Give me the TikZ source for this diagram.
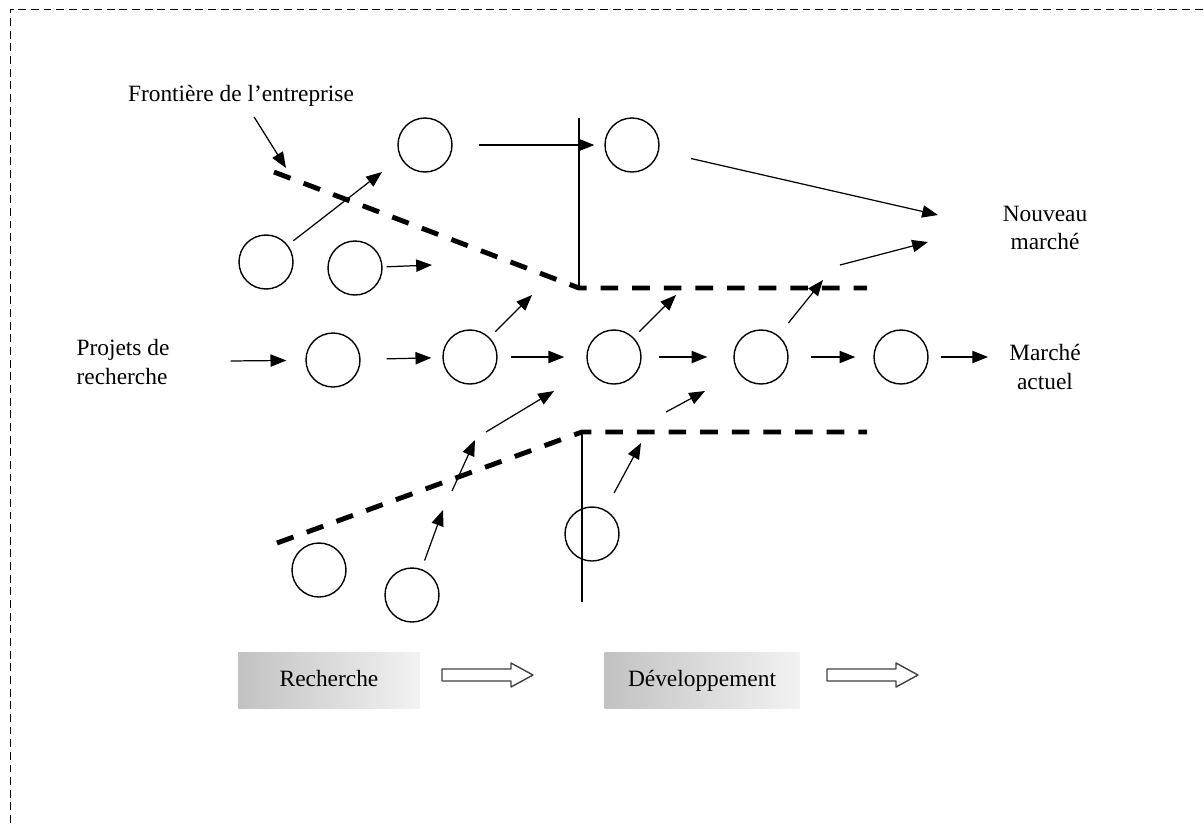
\documentclass[tikz,border=0pt]{standalone}
\usepackage{fontspec}
\setmainfont{Liberation Serif}
\usetikzlibrary{arrows.meta,positioning}
\newcommand{\hollowarrow}[2]{%
  \draw[line width=0.8pt,black!75,line join=round,fill=white]
    (#1,#2) ++(0,-6) -- ++(69,0) -- ++(0,-6) -- ++(22,12) -- ++(-22,12)
    -- ++(0,-6) -- ++(-69,0) -- cycle;}

\begin{document}
\begin{tikzpicture}[x=0.02cm,y=-0.02cm,
    font=\fontsize{13.3}{16}\selectfont,
    firm/.style={circle,draw,line width=0.8pt,minimum size=1.08cm,inner sep=0pt},
    arr/.style={line width=0.7pt,-{Triangle[length=9pt,width=7pt]}},
    gap/.style 2 args={shorten <=#1,shorten >=#2},
    bound/.style={line width=2.8pt,dash pattern=on 10pt off 8pt},
    wall/.style={line width=0.8pt},
    phase/.style={minimum height=1.12cm,inner sep=0pt,text height=9pt,text depth=2pt,
      left color=black!24,right color=black!5}]
  \useasboundingbox (0,0) rectangle (1204,823);
  \draw[line width=0.5pt,dash pattern=on 4.5pt off 2.7pt] (10,823) -- (10,9) -- (1204,9);

  % projets
  \node[firm] (top1) at (425,145) {};
  \node[firm] (top2) at (632,145) {};
  \node[firm] (up1) at (266,262) {};
  \node[firm] (up2) at (355,268) {};
  \node[firm] (mid1) at (333,360) {};
  \node[firm] (mid2) at (470,357) {};
  \node[firm] (mid3) at (614,357) {};
  \node[firm] (mid4) at (761,357) {};
  \node[firm] (mid5) at (901,357) {};
  \node[firm] (low1) at (319,570) {};
  \node[firm] (low2) at (412,595) {};
  \node[firm] (low3) at (592,534) {};

  % textes
  \node (front) at (241,96) {Frontière de l’entreprise};
  \node[align=left] (proj) at (123,362) {Projets de\\recherche};
  \node[align=center] (nouv) at (1045,228) {Nouveau\\marché};
  \node[align=center] (actu) at (1045,367) {Marché\\actuel};
  \node[phase,minimum width=3.64cm] (rech) at (329,680) {Recherche};
  \node[phase,minimum width=3.9cm] (dev) at (702,680) {Développement};
  \hollowarrow{442}{675}
  \hollowarrow{827}{675}

  % frontieres
  \coordinate (b1) at (274,172);
  \coordinate (b2) at (579,288);
  \coordinate (b3) at (867,288);
  \coordinate (b4) at (277,543);
  \coordinate (b5) at (582,432);
  \coordinate (b6) at (867,432);
  \coordinate (v1) at (579,118);
  \coordinate (v2) at (582,602);
  \draw[wall] (v1) -- (b2);
  \draw[wall] (b5) -- (v2);
  \draw[bound] (b1) -- (b2) -- (b3);
  \draw[bound] (b4) -- (b5) -- (b6);

  % bouts libres
  \coordinate (fa) at (286,168);
  \coordinate (ua) at (382,172);
  \coordinate (ub) at (432,265);
  \coordinate (n1) at (938,215);
  \coordinate (n2s) at (840,265);
  \coordinate (n2) at (928,242);
  \coordinate (d1) at (532,295);
  \coordinate (d2) at (676,295);
  \coordinate (d3) at (823,280);
  \coordinate (e1s) at (486,432);
  \coordinate (e1) at (554,391);
  \coordinate (e2s) at (666,412);
  \coordinate (e2) at (705,391);
  \coordinate (e3) at (641,443);
  \coordinate (e4) at (443,510);
  \coordinate (e5s) at (452,491);
  \coordinate (e5) at (475,440);

  \draw[arr,gap={0.1cm}{0pt}] (front) -- (fa);
  \draw[arr,gap={0.52cm}{0.2cm}] (top1) -- (top2);
  \draw[arr,gap={0.66cm}{0pt}] (top2) -- (n1);
  \draw[arr] (n2s) -- (n2);
  \draw[arr,gap={0.14cm}{0pt}] (up1) -- (ua);
  \draw[arr,gap={0.08cm}{0pt}] (up2) -- (ub);

  \draw[arr,gap={1.1cm}{0.38cm}] (proj) -- (mid1);
  \draw[arr,gap={0.52cm}{0.22cm}] (mid1) -- (mid2);
  \draw[arr,gap={0.26cm}{0.44cm}] (mid2) -- (mid3);
  \draw[arr,gap={0.34cm}{0.52cm}] (mid3) -- (mid4);
  \draw[arr,gap={0.44cm}{0.36cm}] (mid4) -- (mid5);
  \draw[arr,gap={0.24cm}{0.3cm}] (mid5) -- (actu.west |- mid5);

  \draw[arr,gap={0.16cm}{0pt}] (mid2) -- (d1);
  \draw[arr,gap={0.16cm}{0pt}] (mid3) -- (d2);
  \draw[arr,gap={0.32cm}{0pt}] (mid4) -- (d3);

  \draw[arr] (e1s) -- (e1);
  \draw[arr] (e2s) -- (e2);
  \draw[arr,gap={0.38cm}{0pt}] (low3) -- (e3);
  \draw[arr,gap={0.18cm}{0pt}] (low2) -- (e4);
  \draw[arr] (e5s) -- (e5);
\end{tikzpicture}
\end{document}
